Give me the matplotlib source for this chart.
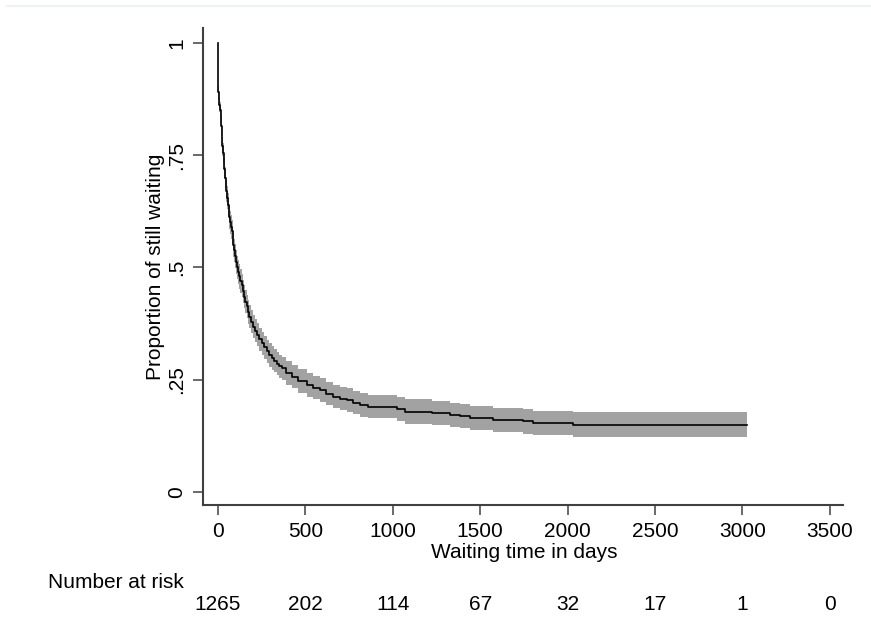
import matplotlib
matplotlib.use("Agg")
import numpy as np
import matplotlib.pyplot as plt
from matplotlib.lines import Line2D
from matplotlib.transforms import blended_transform_factory

# Kaplan-Meier estimate of time on the waiting list, with 95% CI
days = [0, 2, 5, 8, 12, 15, 18, 21, 25, 28, 32, 36, 40, 43, 46, 50, 55, 60,
        65, 69, 74, 78, 83, 88, 92, 97, 103, 110, 116, 122, 128, 135, 142,
        150, 157, 164, 172, 180, 190, 202, 213, 225, 237, 250, 265, 280, 293,
        307, 320, 335, 350, 364, 390, 421, 460, 507, 545, 584, 620, 660, 700,
        736, 775, 812, 860, 1022, 1070, 1222, 1327, 1384, 1442, 1575, 1747,
        1804, 2033, 3025]
surv = [1.0, .89, .875, .862, .85, .835, .815, .795, .77, .755, .74, .72, .70,
        .685, .67, .655, .64, .625, .612, .60, .59, .58, .565, .55, .538, .525,
        .512, .50, .49, .48, .47, .46, .447, .435, .424, .413, .401, .39, .379,
        .368, .359, .35, .340, .331, .322, .313, .305, .298, .292, .286, .280,
        .275, .265, .257, .247, .238, .232, .227, .219, .212, .208, .205, .199,
        .194, .190, .184, .179, .175, .171, .169, .165, .160, .157, .153, .150,
        .150]
ci_lo = [1.0, .876, .859, .845, .832, .816, .795, .774, .749, .733, .717, .696,
         .676, .660, .645, .629, .614, .599, .586, .574, .564, .554, .539, .524,
         .512, .499, .486, .474, .464, .453, .443, .434, .421, .409, .398, .387,
         .375, .364, .353, .342, .333, .324, .314, .305, .296, .287, .279, .272,
         .266, .260, .254, .249, .239, .231, .221, .212, .206, .201, .193, .186,
         .182, .179, .173, .168, .164, .157, .152, .148, .144, .142, .138, .133,
         .130, .126, .123, .123]
ci_hi = [1.0, .904, .891, .879, .868, .854, .835, .816, .791, .777, .763, .744,
         .724, .710, .695, .681, .666, .651, .638, .626, .616, .606, .591, .576,
         .564, .551, .538, .526, .516, .507, .497, .486, .473, .461, .450, .439,
         .427, .416, .405, .394, .385, .376, .366, .357, .348, .339, .331, .324,
         .318, .312, .306, .301, .291, .283, .273, .264, .258, .253, .245, .238,
         .234, .231, .225, .220, .216, .211, .206, .202, .198, .196, .192, .187,
         .184, .180, .177, .177]

xticks = [0, 500, 1000, 1500, 2000, 2500, 3000, 3500]
yticks = [0, 0.25, 0.5, 0.75, 1]
ytick_labels = ["0", ".25", ".5", ".75", "1"]
at_risk = [1265, 202, 114, 67, 32, 17, 1, 0]

plt.rcParams["font.family"] = ["Liberation Sans", "DejaVu Sans"]

fig = plt.figure(figsize=(8.71, 6.37), dpi=100)
ax = fig.add_axes([203 / 871, 1 - 505 / 637, 640 / 871, 477 / 637])

ax.fill_between(days, ci_lo, ci_hi, step="post", color="#a2a2a2", lw=0)
ax.step(days, surv, where="post", color="black", lw=1.2)

ax.set_xlim(-86, 3576)
ax.set_ylim(-0.029, 1.033)
ax.set_xticks(xticks)
ax.set_yticks(yticks)
ax.set_yticklabels(ytick_labels, rotation=90, va="center")

for side in ["top", "right"]:
    ax.spines[side].set_visible(False)
for side in ["left", "bottom"]:
    ax.spines[side].set_color("#404040")
    ax.spines[side].set_linewidth(1.5)
ax.tick_params(axis="both", length=7, width=1.1, color="#404040",
               labelsize=15, pad=5)

ax.set_ylabel("Proportion of still waiting", fontsize=15, labelpad=2)
fig.text(524 / 871, 1 - 553 / 637, "Waiting time in days", fontsize=15,
         ha="center", va="center")

# number-at-risk table under the x axis
fig.text(48 / 871, 1 - 582 / 637, "Number at risk", fontsize=15,
         ha="left", va="center")
trans = blended_transform_factory(ax.transData, fig.transFigure)
for x, n in zip(xticks, at_risk):
    fig.text(x, 1 - 605 / 637, str(n), fontsize=15,
             ha="center", va="center", transform=trans)

fig.add_artist(Line2D([7 / 871, 1], [1 - 5.5 / 637] * 2, color="#edf2f5",
                      lw=1.5, transform=fig.transFigure))

fig.savefig("out.png", dpi=100)
